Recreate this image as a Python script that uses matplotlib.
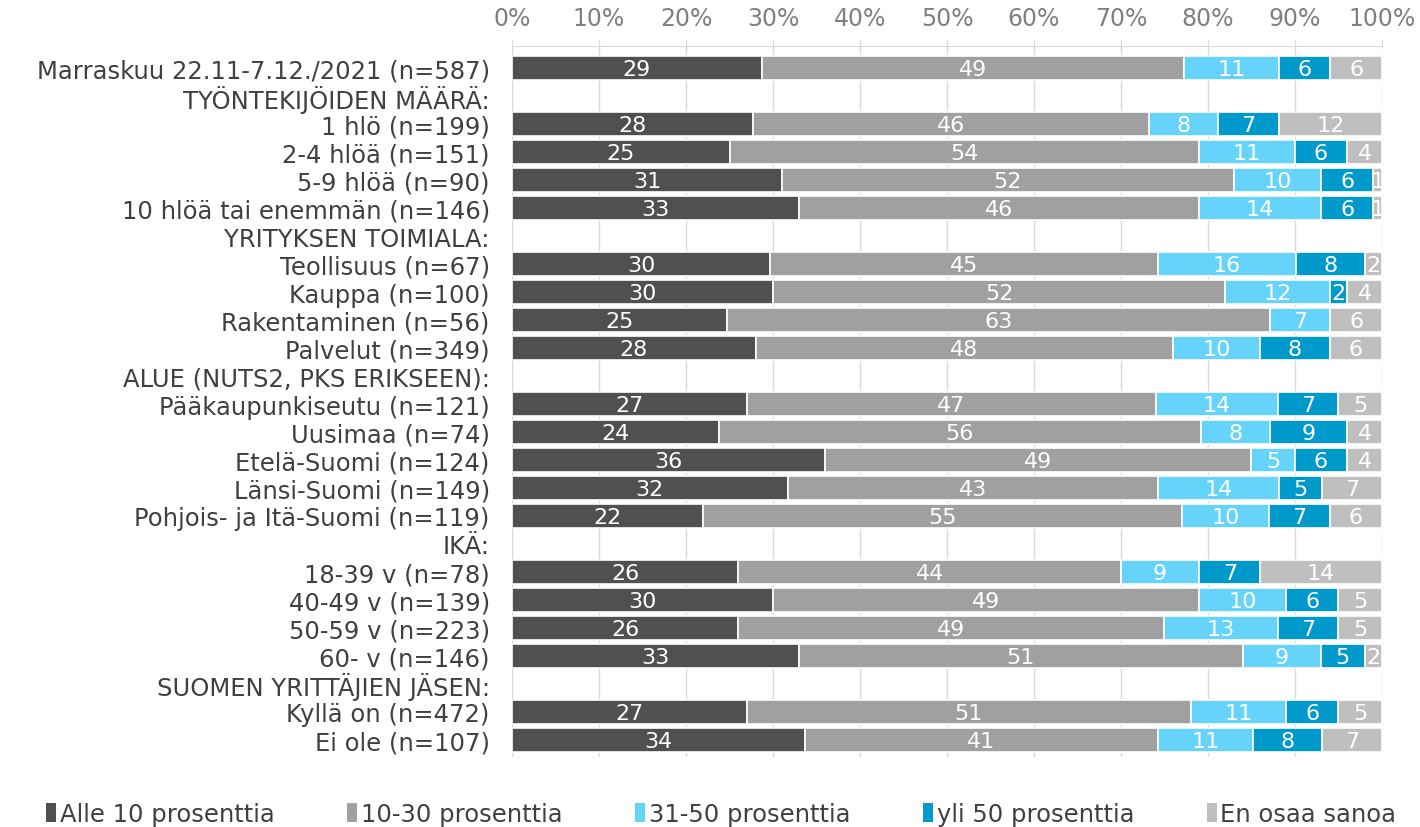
import numpy as np
import matplotlib.pyplot as plt

rows = ['Marraskuu 22.11-7.12./2021 (n=587)', 'TYÖNTEKIJÖIDEN MÄÄRÄ:',
        '1 hlö (n=199)', '2-4 hlöä (n=151)', '5-9 hlöä (n=90)', '10 hlöä tai enemmän (n=146)',
        'YRITYKSEN TOIMIALA:',
        'Teollisuus (n=67)', 'Kauppa (n=100)', 'Rakentaminen (n=56)', 'Palvelut (n=349)',
        'ALUE (NUTS2, PKS ERIKSEEN):',
        'Pääkaupunkiseutu (n=121)', 'Uusimaa (n=74)', 'Etelä-Suomi (n=124)',
        'Länsi-Suomi (n=149)', 'Pohjois- ja Itä-Suomi (n=119)',
        'IKÄ:',
        '18-39 v (n=78)', '40-49 v (n=139)', '50-59 v (n=223)', '60- v (n=146)',
        'SUOMEN YRITTÄJIEN JÄSEN:',
        'Kyllä on (n=472)', 'Ei ole (n=107)']

# None = header row (no bar)
alle10 = [29, None, 28, 25, 31, 33, None, 30, 30, 25, 28, None, 27, 24, 36, 32, 22, None, 26, 30, 26, 33, None, 27, 34]
p10_30 = [49, None, 46, 54, 52, 46, None, 45, 52, 63, 48, None, 47, 56, 49, 43, 55, None, 44, 49, 49, 51, None, 51, 41]
p31_50 = [11, None, 8, 11, 10, 14, None, 16, 12, 7, 10, None, 14, 8, 5, 14, 10, None, 9, 10, 13, 9, None, 11, 11]
yli50 = [6, None, 7, 6, 6, 6, None, 8, 2, 0, 8, None, 7, 9, 6, 5, 7, None, 7, 6, 7, 5, None, 6, 8]
eos = [6, None, 12, 4, 1, 1, None, 2, 4, 6, 6, None, 5, 4, 4, 7, 6, None, 14, 5, 5, 2, None, 5, 7]

series = ['Alle 10 prosenttia', '10-30 prosenttia', '31-50 prosenttia', 'yli 50 prosenttia', 'En osaa sanoa']
colors = ['#505050', '#a0a0a0', '#66d4fa', '#0099cc', '#bfbfbf']

data = [alle10, p10_30, p31_50, yli50, eos]

fig = plt.figure(figsize=(14.2, 8.28), dpi=100)
ax = fig.add_axes([0.3606, 0.085, 0.6126, 0.858])

y = np.arange(len(rows))
for i in range(len(rows)):
    if alle10[i] is None:
        continue
    vals = np.array([d[i] for d in data], dtype=float)
    tot = vals.sum()
    left = 0.0
    for j, v in enumerate(vals):
        w = v / tot * 100
        if v > 0:
            ax.barh(i, w, left=left, height=0.86, color=colors[j], edgecolor='white', linewidth=1.2, zorder=3)
            ax.text(left + w / 2, i + 0.03, '%d' % v, ha='center', va='center', color='white',
                    fontsize=16, zorder=4)
        left += w

for j in range(5):
    ax.barh(-10, 0, color=colors[j], label=series[j])

ax.set_xlim(0, 100)
ax.set_ylim(24.6, -0.79)
ax.set_yticks(y)
ax.set_yticklabels(rows, fontsize=17.5, color='#404040')
ax.set_xticks(np.arange(0, 101, 10))
ax.set_xticklabels(['%d%%' % v for v in range(0, 101, 10)], fontsize=17, color='#808080')
ax.xaxis.tick_top()
ax.tick_params(axis='x', which='both', length=5, color='#d9d9d9', pad=7)
ax.tick_params(axis='y', length=0, pad=16)
ax.grid(axis='x', color='#d9d9d9', linewidth=1, zorder=0)
for s in ['bottom', 'left', 'right']:
    ax.spines[s].set_visible(False)
ax.spines['top'].set_color('#d9d9d9')

fig.legend(loc='lower center', bbox_to_anchor=(0.508, -0.025), ncol=5, frameon=False,
           fontsize=17.5, handlelength=0.4, handleheight=0.85, handletextpad=0.15,
           columnspacing=3.0, labelcolor='#404040')

fig.savefig('out.png', dpi=100)
